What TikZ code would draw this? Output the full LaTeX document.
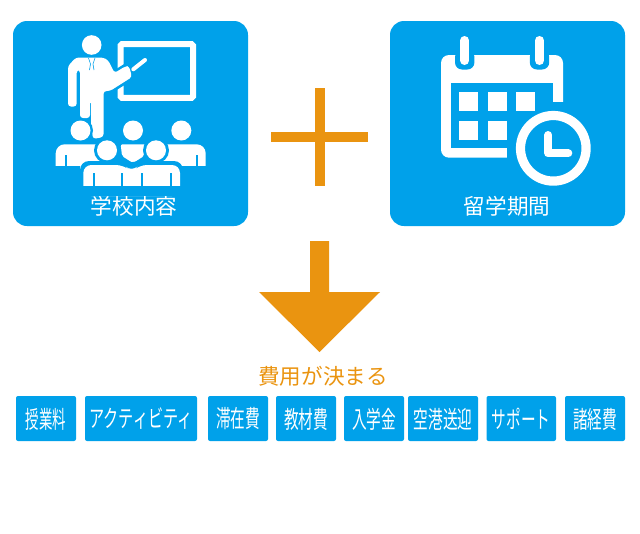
\documentclass[tikz,border=0pt]{standalone}
\usepackage{fontspec}
\setmainfont{Noto Sans CJK JP}
\usepackage{xcolor}
\definecolor{tileblue}{HTML}{00A1EA}
\definecolor{costorange}{HTML}{EA9410}
\usetikzlibrary{positioning}
\tikzset{
  panel/.style={fill=tileblue, rounded corners=14pt},
  icon/.style={fill=white, draw=none},
  halo/.style={fill=tileblue, draw=none},
  paneltext/.style={text=white, font=\fontsize{21.6}{21}\selectfont, inner sep=0pt},
  costbox/.style={draw=none, minimum height=45pt, inner sep=0pt, text=white, font=\fontsize{24}{24}\selectfont},
  costtext/.style={text=costorange, font=\fontsize{21.6}{21}\selectfont, inner sep=0pt}
}
\begin{document}
\begin{tikzpicture}[x=1pt,y=-1pt]
  \useasboundingbox (0,0) rectangle (640,533);
  % panels
  \fill[panel] (13,21) rectangle (248,226);
  \fill[panel] (390,21) rectangle (625,226);
  \node[paneltext] (school) at (134,206) {学校内容};
  \node[paneltext] (period) at (507,206) {留学期間};
  % teacher and board, in pixels
  \fill[icon] (91.7,45) circle (9.8);
  \draw[white, line width=6pt, rounded corners=1.5pt] (120.5,44.2) rectangle (193,97.8);
  \draw[white, line width=4pt, line cap=round] (133.3,69.3) -- (145,60);
  \draw[tileblue, line width=18pt] (106,86) -- (130,71);
  \fill[icon, rounded corners=3pt] (87.5,57.5) -- (76,57.5) -- (68,66) -- (68,106.5) -- (76.7,106.5) -- (76.7,70) -- (80,70) -- (80,118)
    -- (90,118) -- (90,100.5) -- (91,100.5) -- (91,125) -- (93,139) -- (103.5,137) -- (103.5,91) -- (110,91) -- (132,77) -- (129,66) -- (125,66.5) -- (114.5,73) -- (108,60) -- (103,57.5) -- (96,57.5) -- cycle;
  \draw[tileblue, line width=.6pt] (88.5,58) -- (90.5,64) -- (89.5,70) (95,58) -- (93,64) -- (94,70);
  % students
  \fill[halo] (80.5,130.5) circle (12.5);
  \foreach \hx in {80.5, 133, 181.3} {
    \fill[icon] (\hx,130.5) circle (10);
  }
  \fill[icon, rounded corners=9pt] (55.7,176) -- (55.7,144.3) -- (108,144.3) -- (108,176) -- cycle;
  \fill[icon, rounded corners=2pt] (120.7,144.3) -- (145.7,144.3) -- (144,156) -- (133,163) -- (122,156) -- cycle;
  \fill[icon, rounded corners=9pt] (156,144.3) -- (205.7,144.3) -- (205.7,176) -- (156,176) -- cycle;
  \fill[white!0, halo] (50,166) rectangle (80,180);
  \fill[halo] (180,166) rectangle (210,180);
  \fill[halo] (64.5,155) rectangle (66.7,166);
  \fill[halo] (195.7,155) rectangle (197.9,166);
  \foreach \hx in {107, 156} {
    \fill[halo] (\hx,150.3) circle (13);
    \fill[icon] (\hx,150.3) circle (10);
  }
  \fill[halo, rounded corners=9pt] (80,186) -- (80,161) -- (126,161) -- (132,165) -- (138,161) -- (183,161) -- (183,186) -- cycle;
  \fill[icon, rounded corners=8pt] (83.3,196) -- (83.3,165) -- (124,165) -- (131.7,172) -- (139,165) -- (180,165) -- (180,196) -- cycle;
  \fill[panel, rounded corners=0pt] (80,185.7) rectangle (183,196);
  \foreach \sx in {92.5, 121, 141, 169.5} {
    \fill[halo] (\sx,173) rectangle +(2.2,12.7);
  }
  % calendar
  \fill[icon, rounded corners=8pt] (441,55) rectangle (563,157.7);
  \fill[halo] (450.7,82.7) rectangle (553.3,148.3);
  \fill[halo] (506.7,148) rectangle (564,158);
  \fill[halo] (553,101.7) rectangle (564,149);
  \foreach \rx in {464.7, 539.5} {
    \fill[halo, rounded corners=7pt] (\rx-9.7,50) rectangle (\rx+9.7,69.5);
    \draw[white, line width=9pt, line cap=round] (\rx,40.5) -- (\rx,60.5);
  }
  \foreach \cx/\cy in {459.3/92.3, 487.7/92.3, 516/92.3, 459.3/120.7, 487.7/120.7} {
    \fill[icon] (\cx,\cy) rectangle +(19,19);
  }
  % clock
  \draw[white, line width=9.2pt] (553.3,148.3) circle (32.8);
  \draw[white, line width=8pt, line cap=round, line join=round] (548.3,135) -- (548.3,153.3) -- (568.3,153.3);
  % plus
  \fill[costorange] (271,132) rectangle (368,142);
  \fill[costorange] (315,88) rectangle (325,186);
  % arrow
  \fill[costorange] (310,241) -- (329,241) -- (329,292) -- (380,292) -- (319.5,352) -- (259,292) -- (310,292) -- cycle;
  \node[costtext] (result) at (323,376) {費用が決まる};
  % cost items
  \foreach \bname/\bl/\br/\bs/\btext in {
    tuition/16/76/.56/授業料,
    activity/85/197/.63/アクティビティ,
    stay/208/268/.61/滞在費,
    books/276/336/.61/教材費,
    entry/344/404/.61/入学金,
    pickup/408/478/.61/空港送迎,
    support/486.5/556/.61/サポート,
    misc/565/625/.61/諸経費} {
    \fill[tileblue, rounded corners=2pt] (\bl,396) rectangle (\br,441);
    \node[costbox] (\bname) at ({(\bl+\br)/2},419) {\scalebox{\bs}[1]{\btext}};
  }
\end{tikzpicture}
\end{document}
